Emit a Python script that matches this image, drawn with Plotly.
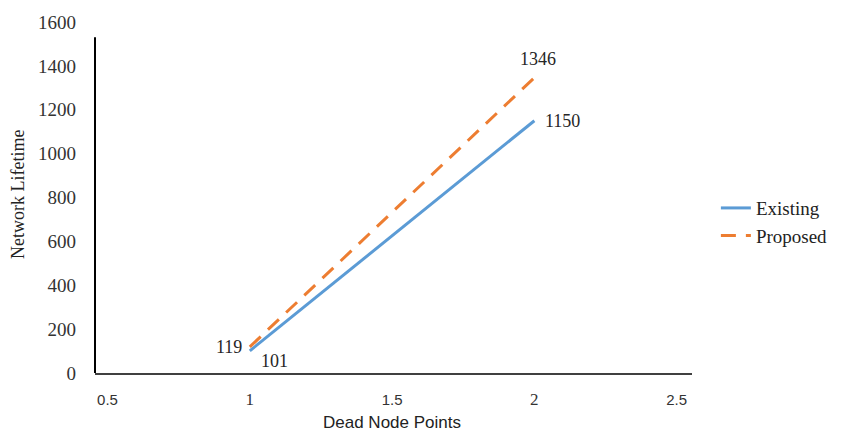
import plotly.graph_objects as go

dead_node_points = [1, 2]
existing = [101, 1150]
proposed = [119, 1346]
x_tick_vals = [0.5, 1, 1.5, 2, 2.5]
x_tick_labels = ["0.5", "1", "1.5", "2", "2.5"]
y_tick_vals = [0, 200, 400, 600, 800, 1000, 1200, 1400, 1600]

SERIF = "Liberation Serif"
SANS = "Liberation Sans"

x_tick_fonts = [SANS, SERIF, SANS, SERIF, SANS]
x_tick_sizes = [15, 17, 15, 17, 15]
x_tick_text = [f"<span style='font-family:\"{f}\";font-size:{s}px'>{t}</span>"
               for t, f, s in zip(x_tick_labels, x_tick_fonts, x_tick_sizes)]

# label placement (style only): (xanchor, yanchor, xshift, yshift)
existing_label_style = [("center", "middle", 25, -10), ("left", "middle", 9, 0)]
proposed_label_style = [("right", "middle", -6, 0), ("center", "middle", 4, 19)]

fig = go.Figure()
fig.add_trace(go.Scatter(
    x=dead_node_points, y=existing, name="Existing", mode="lines",
    line=dict(color="#5B9BD5", width=3),
))
fig.add_trace(go.Scatter(
    x=dead_node_points, y=proposed, name="Proposed", mode="lines",
    line=dict(color="#ED7D31", width=3, dash="15px,10px"),
))

annotations = []
for xs, ys, styles in [(dead_node_points, existing, existing_label_style),
                       (dead_node_points, proposed, proposed_label_style)]:
    for xv, yv, (xa, ya, dx, dy) in zip(xs, ys, styles):
        annotations.append(dict(x=xv, y=yv, xref="x", yref="y", text=str(yv), showarrow=False,
                                xanchor=xa, yanchor=ya, xshift=dx, yshift=dy,
                                font=dict(family=SERIF, size=18, color="#262626")))

annotations += [
    dict(text="Dead Node Points", xref="paper", yref="paper", x=0.498, y=-0.14,
         xanchor="center", yanchor="middle", showarrow=False,
         font=dict(family=SANS, size=17, color="#222222")),
    dict(text="Network Lifetime", xref="paper", yref="paper", x=-0.129, y=0.51,
         xanchor="center", yanchor="middle", showarrow=False, textangle=-90,
         font=dict(family=SERIF, size=18, color="#222222")),
]

fig.update_layout(
    width=845, height=437,
    margin=dict(l=95, r=152, t=16, b=64),
    paper_bgcolor="white", plot_bgcolor="white",
    showlegend=True,
    legend=dict(x=1.04, y=0.43, xanchor="left", yanchor="middle",
                font=dict(family=SERIF, size=19, color="#222222"),
                bgcolor="rgba(0,0,0,0)", tracegroupgap=4),
    xaxis=dict(range=[0.456, 2.554], tickvals=x_tick_vals, ticktext=x_tick_text,
               showgrid=False, zeroline=False, showline=True, linecolor="#404040", linewidth=2,
               ticks="", ticklabelstandoff=12,
               tickfont=dict(family=SANS, size=15, color="#333333")),
    yaxis=dict(range=[0, 1600], tickvals=y_tick_vals,
               showgrid=False, zeroline=False, showline=False,
               ticks="", ticklabelstandoff=18,
               tickfont=dict(family=SERIF, size=19, color="#333333")),
    shapes=[dict(type="line", xref="paper", yref="y", x0=0, x1=0, y0=0, y1=1530,
                 line=dict(color="black", width=2))],
    annotations=annotations,
)

fig.write_html("out.html")
